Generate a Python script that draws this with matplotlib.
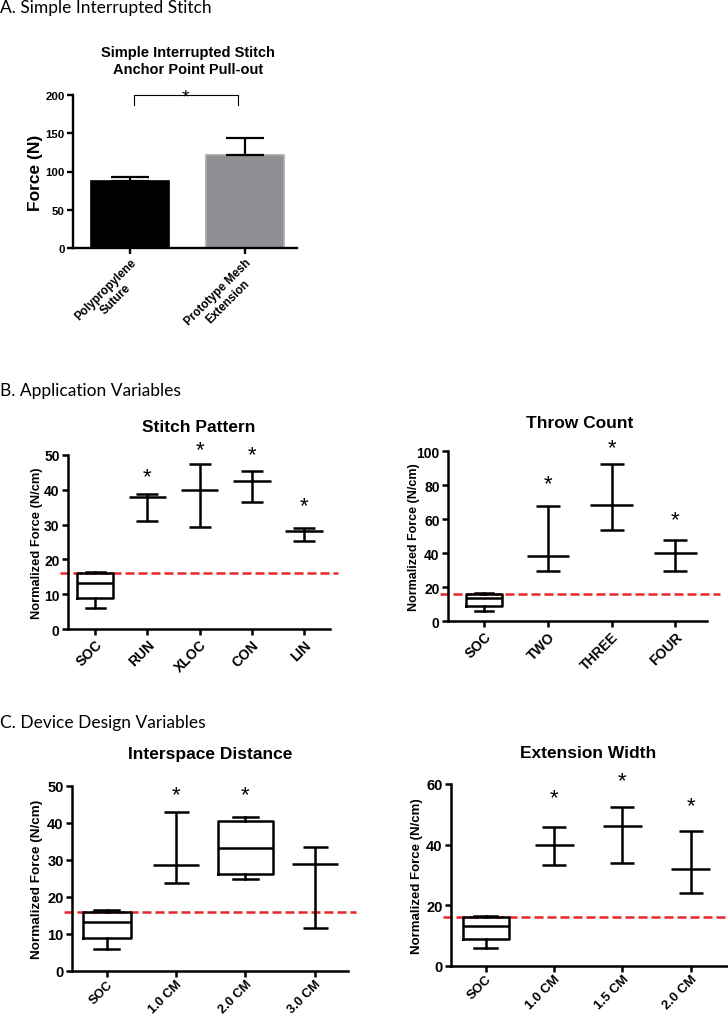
import matplotlib
matplotlib.use("Agg")
import matplotlib.pyplot as plt
import matplotlib.transforms as mtransforms

plt.rcParams['font.family'] = ['Liberation Sans', 'DejaVu Sans']
plt.rcParams['font.weight'] = 'bold'

# ---------------- data ----------------
# Panel A
a_categories = ["Polypropylene\nSuture", "Prototype Mesh\nExtension"]
a_means = [88, 122]
a_err_up = [5, 22]
a_sig_level = 200

threshold = 16

# shared SOC box (whislo, q1, median, q3, whishi)
soc_box = [6.0, 8.9, 13.3, 16.0, 16.4]

# Stitch Pattern
sp_categories = ["SOC", "RUN", "XLOC", "CON", "LIN"]
sp_mean = [38.0, 39.8, 42.4, 28.3]
sp_low = [31.0, 29.4, 36.6, 25.3]
sp_high = [38.9, 47.5, 45.3, 28.9]
sp_star = [43.9, 51.6, 50.2, 35.3]

# Throw Count
tc_categories = ["SOC", "TWO", "THREE", "FOUR"]
tc_mean = [38.0, 68.4, 40.0]
tc_low = [29.6, 53.5, 29.4]
tc_high = [67.6, 92.2, 47.5]
tc_star = [81.0, 102.0, 59.6]

# Interspace Distance
id_categories = ["SOC", "1.0 CM", "2.0 CM", "3.0 CM"]
id_box_20 = [24.9, 26.1, 33.2, 40.5, 41.7]
id_mean = [28.6, 28.9]
id_low = [23.9, 11.6]
id_high = [43.0, 33.6]
id_star = [47.7, 47.7]

# Extension Width
ew_categories = ["SOC", "1.0 CM", "1.5 CM", "2.0 CM"]
ew_mean = [39.8, 46.2, 31.9]
ew_low = [33.3, 34.1, 24.0]
ew_high = [45.9, 52.3, 44.5]
ew_star = [55.5, 61.0, 52.7]

# ---------------- figure ----------------
W, H = 728, 1020
fig = plt.figure(figsize=(W / 100, H / 100), dpi=100)


def px_axes(left, right, top, bottom):
    return fig.add_axes([left / W, 1 - bottom / H, (right - left) / W, (bottom - top) / H])


def style_axes(ax, lw, ticksize):
    for s in ['top', 'right']:
        ax.spines[s].set_visible(False)
    for s in ['left', 'bottom']:
        ax.spines[s].set_linewidth(lw)
    ax.tick_params(axis='both', width=lw, length=4, labelsize=ticksize, pad=2)


def stats(v, label):
    return dict(whislo=v[0], q1=v[1], med=v[2], q3=v[3], whishi=v[4], label=label, fliers=[])


def draw_box(ax, pos, v, width, capw, lw):
    ax.bxp([stats(v, '')], positions=[pos], widths=width, capwidths=capw, showfliers=False,
           boxprops=dict(lw=lw, color='black'), whiskerprops=dict(lw=lw, color='black'),
           capprops=dict(lw=lw, color='black'), medianprops=dict(lw=lw, color='black'),
           manage_ticks=False)


def draw_range(ax, xs, mean, low, high, meanw, capsize, lw):
    ax.hlines(mean, [x - meanw / 2 for x in xs], [x + meanw / 2 for x in xs], colors='black', lw=lw)
    yerr = [[m - l for m, l in zip(mean, low)], [h - m for m, h in zip(mean, high)]]
    ax.errorbar(xs, mean, yerr=yerr, fmt='none', ecolor='black', elinewidth=lw,
                capsize=capsize, capthick=lw)


def draw_threshold(ax, x0=-0.03, x1=1.03):
    tr = mtransforms.blended_transform_factory(ax.transAxes, ax.transData)
    ax.plot([x0, x1], [threshold, threshold], transform=tr, color='#e8262a', lw=1.8,
            dashes=(3.6, 1.6), clip_on=False, zorder=1)


def draw_stars(ax, xs, ys, size=16):
    for x, y in zip(xs, ys):
        ax.text(x, y, '*', ha='center', va='center', fontsize=size, fontweight='normal')


# panel labels
lab_font = dict(family=['Lato', 'DejaVu Sans'], fontsize=12.5, fontweight='normal')
fig.text(0.0, 1 - 13 / H, "A. Simple Interrupted Stitch", ha='left', va='baseline', **lab_font)
fig.text(0.0, 1 - 396 / H, "B. Application Variables", ha='left', va='baseline', **lab_font)
fig.text(0.0, 1 - 728 / H, "C. Device Design Variables", ha='left', va='baseline', **lab_font)

# ---------------- Panel A ----------------
axA = px_axes(73, 297, 96, 249)
xa = list(range(len(a_categories)))
axA.bar(xa, a_means, width=0.68, color=['black', '#8f9094'],
        edgecolor=['black', '#a9a9ab'], linewidth=1.2,
        yerr=[[0, 0], a_err_up], capsize=14,
        error_kw=dict(ecolor='black', elinewidth=1.6, capthick=1.6), zorder=2)
axA.set_xlim(-0.5, 1.45)
axA.set_ylim(0, 200)
axA.set_yticks([0, 50, 100, 150, 200])
axA.set_xticks(xa)
axA.set_xticklabels(a_categories, rotation=45, ha='right', rotation_mode='anchor',
                    multialignment='center')
style_axes(axA, 1.7, 8.2)
axA.tick_params(axis='x', labelsize=8.5)
axA.set_ylabel("Force (N)", fontsize=12.5, fontweight='bold')
axA.yaxis.set_label_coords(-0.134, 0.5)
# significance bracket
axA.plot([0.035, 0.035, 0.94, 0.94], [186.5, a_sig_level, a_sig_level, 186.5], color='black',
         lw=0.8, clip_on=False)
axA.text(0.48, a_sig_level - 2, '*', ha='center', va='center', fontsize=14, fontweight='normal')
fig.text(188 / W, 1 - 57 / H, "Simple Interrupted Stitch", ha='center', va='baseline',
         fontsize=10.5, fontweight='bold')
fig.text(188 / W, 1 - 74 / H, "Anchor Point Pull-out", ha='center', va='baseline',
         fontsize=10.5, fontweight='bold')

LW = 1.8

# ---------------- Panel B left: Stitch Pattern ----------------
axB1 = px_axes(68, 330, 456, 630)
draw_threshold(axB1)
draw_box(axB1, 0, soc_box, 0.69, 0.36, LW)
xs = list(range(1, len(sp_categories)))
draw_range(axB1, xs, sp_mean, sp_low, sp_high, 0.72, 7.6, LW)
draw_stars(axB1, xs, sp_star)
axB1.set_xlim(-0.52, 4.5)
axB1.set_ylim(0, 50)
axB1.set_yticks(range(0, 51, 10))
axB1.set_xticks(range(len(sp_categories)))
axB1.set_xticklabels(sp_categories, rotation=45, ha='right', rotation_mode='anchor')
style_axes(axB1, LW, 10)
axB1.set_ylabel("Normalized Force (N/cm)", fontsize=9.3, fontweight='bold')
axB1.yaxis.set_label_coords(-0.095, 0.5)
fig.text(199 / W, 1 - 432 / H, "Stitch Pattern", ha='center', va='baseline', fontsize=12.5,
         fontweight='bold')

# ---------------- Panel B right: Throw Count ----------------
axB2 = px_axes(448, 707, 452, 622)
draw_threshold(axB2, -0.03, 1.05)
draw_box(axB2, 0, soc_box, 0.56, 0.28, LW)
xs = list(range(1, len(tc_categories)))
draw_range(axB2, xs, tc_mean, tc_low, tc_high, 0.67, 8.3, LW)
draw_stars(axB2, xs, tc_star)
axB2.set_xlim(-0.57, 3.5)
axB2.set_ylim(0, 100)
axB2.set_yticks(range(0, 101, 20))
axB2.set_xticks(range(len(tc_categories)))
axB2.set_xticklabels(tc_categories, rotation=45, ha='right', rotation_mode='anchor')
style_axes(axB2, LW, 10)
axB2.set_ylabel("Normalized Force (N/cm)", fontsize=9, fontweight='bold')
axB2.yaxis.set_label_coords(-0.108, 0.5)
fig.text(580 / W, 1 - 428 / H, "Throw Count", ha='center', va='baseline', fontsize=12.5,
         fontweight='bold')

# ---------------- Panel C left: Interspace Distance ----------------
axC1 = px_axes(72, 348, 787, 972)
draw_threshold(axC1)
draw_box(axC1, 0, soc_box, 0.69, 0.36, LW)
draw_box(axC1, 2, id_box_20, 0.79, 0.36, LW)
xs = [1, 3]
draw_range(axC1, xs, id_mean, id_low, id_high, 0.66, 9.0, LW)
draw_stars(axC1, [1, 2], id_star)
axC1.set_xlim(-0.5, 3.48)
axC1.set_ylim(0, 50)
axC1.set_yticks(range(0, 51, 10))
axC1.set_xticks(range(len(id_categories)))
axC1.set_xticklabels(id_categories, rotation=45, ha='right', rotation_mode='anchor')
style_axes(axC1, LW, 10.5)
axC1.tick_params(axis='x', labelsize=9.2, pad=1)
axC1.set_ylabel("Normalized Force (N/cm)", fontsize=9.7, fontweight='bold')
axC1.yaxis.set_label_coords(-0.105, 0.5)
fig.text(210 / W, 1 - 759 / H, "Interspace Distance", ha='center', va='baseline', fontsize=12.5,
         fontweight='bold')

# ---------------- Panel C right: Extension Width ----------------
axC2 = px_axes(451, 727, 785, 967)
draw_threshold(axC2, -0.03, 1.0)
draw_box(axC2, 0, soc_box, 0.68, 0.34, LW)
xs = list(range(1, len(ew_categories)))
draw_range(axC2, xs, ew_mean, ew_low, ew_high, 0.57, 8.6, LW)
draw_stars(axC2, xs, ew_star)
axC2.set_xlim(-0.51, 3.53)
axC2.set_ylim(0, 60)
axC2.set_yticks(range(0, 61, 20))
axC2.set_xticks(range(len(ew_categories)))
axC2.set_xticklabels(ew_categories, rotation=45, ha='right', rotation_mode='anchor')
style_axes(axC2, LW, 10.5)
axC2.tick_params(axis='x', labelsize=9.5, pad=1)
axC2.set_ylabel("Normalized Force (N/cm)", fontsize=9.5, fontweight='bold')
axC2.yaxis.set_label_coords(-0.101, 0.5)
fig.text(588 / W, 1 - 758 / H, "Extension Width", ha='center', va='baseline', fontsize=12.5,
         fontweight='bold')

fig.savefig("out.png", dpi=100)
